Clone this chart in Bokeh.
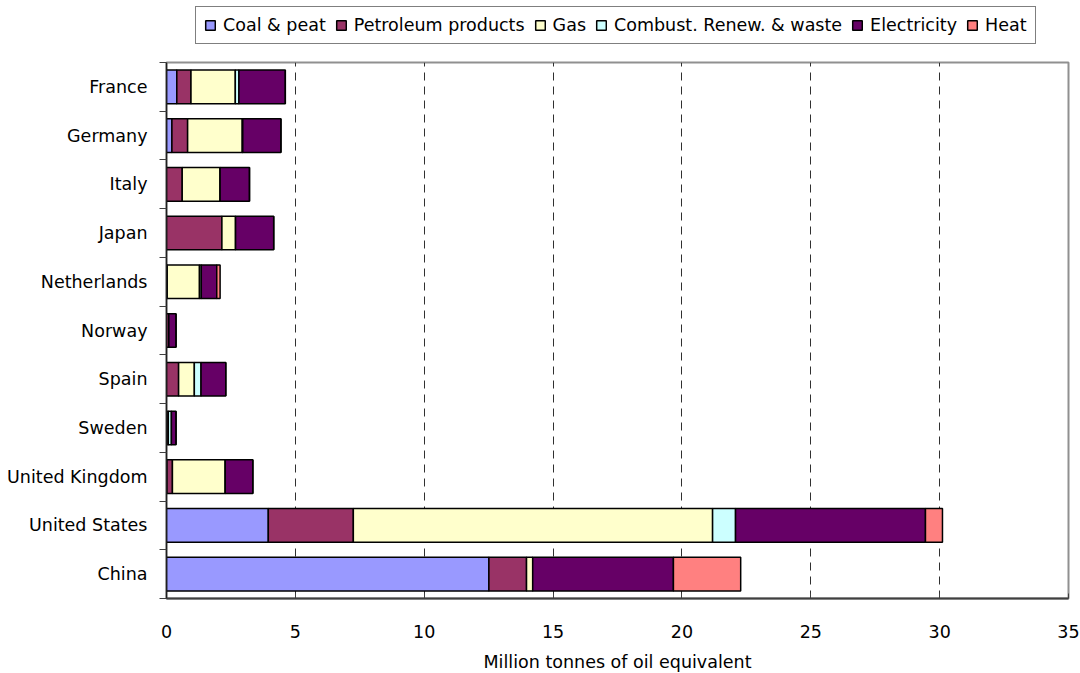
from bokeh.plotting import figure
from bokeh.models import (ColumnDataSource, Range1d, FixedTicker, Legend, LegendItem)
from bokeh.layouts import column
from bokeh.embed import file_html
from bokeh.resources import INLINE

countries = ["France", "Germany", "Italy", "Japan", "Netherlands", "Norway",
             "Spain", "Sweden", "United Kingdom", "United States", "China"]
coal = [0.40, 0.21, 0.0, 0.0, 0.0, 0.0, 0.0, 0.0, 0.02, 3.95, 12.51]
petroleum = [0.55, 0.61, 0.61, 2.15, 0.03, 0.09, 0.47, 0.07, 0.21, 3.30, 1.46]
gas = [1.72, 2.12, 1.47, 0.53, 1.25, 0.0, 0.61, 0.0, 2.05, 13.94, 0.24]
combust = [0.14, 0.02, 0.0, 0.0, 0.07, 0.0, 0.26, 0.12, 0.0, 0.89, 0.0]
electricity = [1.80, 1.48, 1.14, 1.48, 0.60, 0.28, 0.96, 0.18, 1.07, 7.37, 5.46]
heat = [0.0, 0.0, 0.0, 0.0, 0.13, 0.0, 0.0, 0.0, 0.0, 0.66, 2.61]

series_names = ["Coal & peat", "Petroleum products", "Gas",
                "Combust. Renew. & waste", "Electricity", "Heat"]
series_keys = ["coal", "petroleum", "gas", "combust", "electricity", "heat"]
colors = ["#9999FF", "#993366", "#FFFFCC", "#CCFFFF", "#660066", "#FF8080"]
x_ticks = [0, 5, 10, 15, 20, 25, 30, 35]

n = len(countries)
ypos = [n - 1 - i + 0.5 for i in range(n)]

source = ColumnDataSource(dict(y=ypos, coal=coal, petroleum=petroleum, gas=gas,
                               combust=combust, electricity=electricity, heat=heat))

FONT = "DejaVu Sans"
FS = "17.5px"

# ---- legend strip (separate figure above the chart) ----
leg_fig = figure(frame_width=1080, frame_height=56, output_backend="svg",
                 toolbar_location=None, x_axis_type=None, y_axis_type=None,
                 x_range=Range1d(0, 1), y_range=Range1d(0, 1),
                 min_border=0)
leg_fig.outline_line_color = None
leg_fig.grid.visible = False
# legend swatches: tiny placeholder bars hidden underneath the opaque legend box
leg_renderers = []
for c in colors:
    r = leg_fig.hbar(y=[0.5], left=[0.5], right=[0.505], height=0.1, fill_color=c,
                     line_color="black", line_width=1.5)
    leg_renderers.append(r)
legend = Legend(items=[LegendItem(label=nm, renderers=[r])
                       for nm, r in zip(series_names, leg_renderers)],
                orientation="horizontal", location=(195, 12),
                border_line_color="black", border_line_width=1,
                background_fill_color="white", background_fill_alpha=1.0,
                label_text_font=FONT, label_text_font_size=FS,
                label_text_color="black",
                glyph_width=12, glyph_height=12, label_standoff=7, spacing=9,
                padding=8, margin=0, label_height=17)
leg_fig.add_layout(legend, "center")

# ---- main chart ----
p = figure(frame_width=902, frame_height=536, output_backend="svg", toolbar_location=None,
           x_range=Range1d(0, 35), y_range=Range1d(0, n),
           min_border_left=166, min_border_right=12, min_border_top=6,
           min_border_bottom=75)

p.hbar_stack(series_keys, y="y", height=0.69, color=colors,
             line_color="black", line_width=1.5, source=source)

# x axis
p.xaxis.ticker = FixedTicker(ticks=x_ticks)
p.xaxis.axis_label = "Million tonnes of oil equivalent"
p.xaxis.axis_label_text_font = FONT
p.xaxis.axis_label_text_font_size = FS
p.xaxis.axis_label_text_font_style = "normal"
p.xaxis.axis_label_text_color = "black"
p.xaxis.axis_label_standoff = 11
p.xaxis.major_label_text_font = FONT
p.xaxis.major_label_text_font_size = FS
p.xaxis.major_label_text_color = "black"
p.xaxis.major_label_standoff = 26
p.xaxis.major_tick_in = 5
p.xaxis.major_tick_out = 0
p.xaxis.minor_tick_line_color = None
p.xaxis.axis_line_color = "#404040"
p.xaxis.axis_line_width = 2
p.xaxis.major_tick_line_color = "#404040"

# y axis
p.yaxis.ticker = FixedTicker(ticks=ypos, minor_ticks=list(range(n + 1)))
p.yaxis.major_label_overrides = {y: c for y, c in zip(ypos, countries)}
p.yaxis.major_label_text_font = FONT
p.yaxis.major_label_text_font_size = FS
p.yaxis.major_label_text_color = "black"
p.yaxis.major_label_standoff = 12
p.yaxis.major_tick_in = 0
p.yaxis.major_tick_out = 0
p.yaxis.minor_tick_in = 0
p.yaxis.minor_tick_out = 7
p.yaxis.minor_tick_line_color = "#404040"
p.yaxis.axis_line_color = "#202020"
p.yaxis.axis_line_width = 1.5

p.ygrid.grid_line_color = None
p.xgrid.ticker = FixedTicker(ticks=[5, 10, 15, 20, 25, 30])
p.xgrid.grid_line_color = "#303030"
p.xgrid.grid_line_dash = "8 6"
p.xgrid.grid_line_width = 1

p.outline_line_color = "#909090"
p.outline_line_width = 2
p.background_fill_color = "white"
p.border_fill_color = "white"

layout = column(leg_fig, p, spacing=0)
open("out.html", "w").write(file_html(layout, INLINE))
